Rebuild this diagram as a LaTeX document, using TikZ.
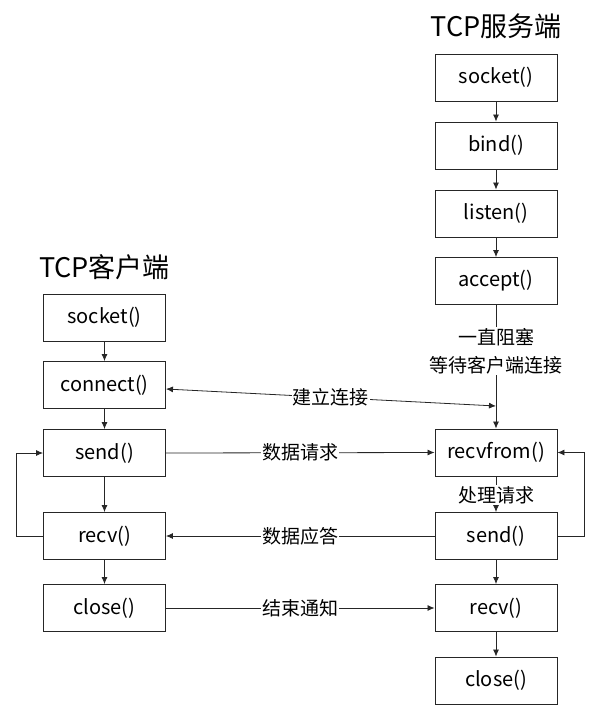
\documentclass[tikz,border=0pt]{standalone}
\usepackage{fontspec}
\setmainfont{Noto Sans CJK SC}
\usetikzlibrary{arrows.meta}
\begin{document}
\begin{tikzpicture}[x=1pt,y=-1pt,
  box/.style={draw=black!85, line width=0.9pt, minimum width=122pt, minimum height=47pt, inner sep=0pt, font=\fontsize{20}{22}\selectfont},
  title/.style={font=\fontsize{27}{30}\selectfont, inner sep=0pt},
  lbl/.style={fill=white, inner sep=1pt, font=\fontsize{19}{28}\selectfont},
  arr/.style={draw=black!85, line width=0.8pt, -{Latex[length=7pt,width=6pt]}},
  darr/.style={draw=black!85, line width=0.8pt, {Latex[length=7pt,width=6pt]}-{Latex[length=7pt,width=6pt]}},
  ln/.style={draw=black!85, line width=0.8pt}]
\useasboundingbox (0,0) rectangle (600,726);
% titles
\node[title] (ts) at (496,26) {TCP服务端};
\node[title] (tc) at (104.5,267) {TCP客户端};
% server
\node[box] (ssock) at (496,77.5) {socket()};
\node[box] (sbind) at (496,145.5) {bind()};
\node[box] (slist) at (496,213.5) {listen()};
\node[box] (sacc) at (496,281) {accept()};
\node[box] (srf) at (496,452.5) {recvfrom()};
\node[box] (ssend) at (496,536) {send()};
\node[box] (srecv) at (496,608) {recv()};
\node[box] (sclose) at (496,680.5) {close()};
% client
\node[box] (csock) at (104.5,317.5) {socket()};
\node[box] (cconn) at (104.5,385) {connect()};
\node[box] (csend) at (104.5,453) {send()};
\node[box] (crecv) at (104.5,536) {recv()};
\node[box] (cclose) at (104.5,608) {close()};
% server chain
\draw[arr] (ssock) -- (sbind);
\draw[arr] (sbind) -- (slist);
\draw[arr] (slist) -- (sacc);
\draw[arr] (sacc) -- (srf);
\node[lbl, align=center] (wait) at (496,351) {一直阻塞\\等待客户端连接};
\draw[arr] (srf) -- (ssend);
\node[lbl] (proc) at (496,495) {处理请求};
\draw[arr] (ssend) -- (srecv);
\draw[arr] (srecv) -- (sclose);
\draw[arr] (ssend.east) -- ++(27,0) |- (srf.east);
% client chain
\draw[arr] (csock) -- (cconn);
\draw[arr] (cconn) -- (csend);
\draw[arr] (csend) -- (crecv);
\draw[arr] (crecv) -- (cclose);
\draw[arr] (crecv.west) -- ++(-27,0) |- (csend.west);
% messages
\coordinate (cj) at (496,406);
\draw[darr] ([yshift=-4pt]cconn.east) -- node[lbl] {建立连接} (cj);
\draw[arr] (csend.east) -- node[lbl] {数据请求} (srf.west);
\draw[arr] (ssend.west) -- node[lbl] {数据应答} (crecv.east);
\draw[arr] (cclose.east) -- node[lbl] {结束通知} (srecv.west);
\end{tikzpicture}
\end{document}
